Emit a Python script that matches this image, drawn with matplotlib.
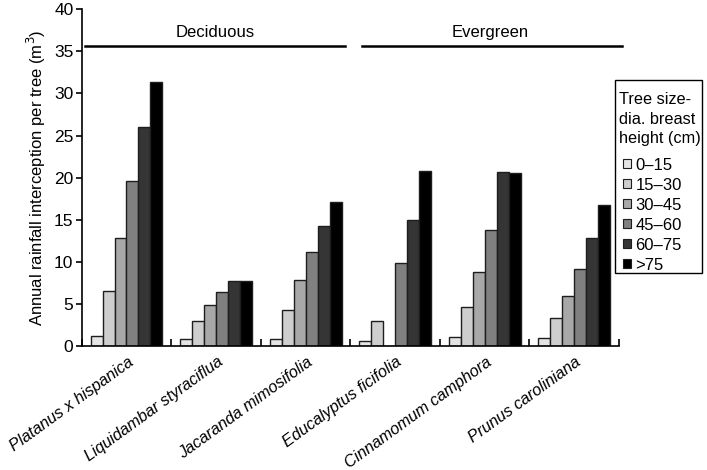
import numpy as np
import matplotlib
matplotlib.use("Agg")
import matplotlib.pyplot as plt
import matplotlib.transforms as mtransforms
from matplotlib.patches import Patch, Rectangle

plt.rcParams["font.family"] = ["Liberation Sans", "DejaVu Sans"]
plt.rcParams["font.size"] = 12

# --- data ---
species = ["Platanus x hispanica", "Liquidambar styraciflua", "Jacaranda mimosifolia",
           "Educalyptus ficifolia", "Cinnamomum camphora", "Prunus caroliniana"]
size_classes = ["0\u201315", "15\u201330", "30\u201345", "45\u201360", "60\u201375", ">75"]
d0_15 = [1.2, 0.8, 0.8, 0.6, 1.0, 0.9]
d15_30 = [6.5, 2.9, 4.2, 2.9, 4.6, 3.3]
d30_45 = [12.8, 4.8, 7.8, 0.0, 8.8, 5.9]
d45_60 = [19.6, 6.4, 11.1, 9.8, 13.8, 9.1]
d60_75 = [26.0, 7.7, 14.2, 15.0, 20.6, 12.8]
d75 = [31.4, 7.7, 17.1, 20.8, 20.5, 16.7]
groups = ["Deciduous", "Evergreen"]
legend_title = ["Tree size-", "dia. breast", "height (cm)"]

series = [d0_15, d15_30, d30_45, d45_60, d60_75, d75]
colors = ["#e4e4e4", "#cecece", "#a8a8a8", "#808080", "#353535", "#000000"]

W, H = 707, 470
fig = plt.figure(figsize=(W / 100, H / 100), dpi=100)
ax = fig.add_axes([0.1156, 0.2645, 0.8755 - 0.1156, 0.9800 - 0.2645])

x = np.arange(len(species))
w = 0.134
for k, vals in enumerate(series):
    ax.bar(x + (k - 2.5) * w, vals, width=w, color=colors[k],
           edgecolor="#1e1e1e", linewidth=1.0, zorder=2)

ax.set_xlim(-0.5, len(species) - 0.5)
ax.set_ylim(0, 40)
ax.set_yticks(np.arange(0, 41, 5))
ax.spines["top"].set_visible(False)
ax.spines["right"].set_visible(False)
ax.spines["left"].set_linewidth(1.2)
ax.spines["bottom"].set_linewidth(1.2)
ax.tick_params(axis="y", direction="out", length=4, width=1.2, pad=2, labelsize=12.5)

ax.set_xticks(x)
ax.set_xticklabels(species, rotation=36, ha="right", va="center",
                   rotation_mode="anchor", style="italic", fontsize=11.7)
ax.tick_params(axis="x", which="major", length=0, pad=10.5)
# nudge the slanted names a little to the right, as in the reference
shift = mtransforms.ScaledTranslation(0.05, 0, fig.dpi_scale_trans)
for lbl in ax.get_xticklabels():
    lbl.set_transform(lbl.get_transform() + shift)
ax.set_xticks(np.arange(-0.5, len(species) + 0.5, 1), minor=True)
ax.tick_params(axis="x", which="minor", direction="in", length=5, width=1.2)

ax.set_ylabel("Annual rainfall interception per tree (m$^3$)", fontsize=12, labelpad=4)

# group headers
ax.plot([-0.463, 2.44], [35.67, 35.67], color="black", lw=1.8, clip_on=False)
ax.plot([2.627, 5.53], [35.67, 35.67], color="black", lw=1.8, clip_on=False)
ax.text(0.99, 37.3, groups[0], ha="center", va="center", fontsize=12)
ax.text(4.06, 37.3, groups[1], ha="center", va="center", fontsize=12)

# legend: box, title lines and entries placed in figure pixels
fig.patches.append(Rectangle((615 / W, 1 - 273 / H), 87 / W, 193 / H,
                             transform=fig.transFigure, fill=False,
                             edgecolor="black", linewidth=1.0))
for i, line in enumerate(legend_title):
    fig.text(619 / W, 1 - (104.5 + 19.5 * i) / H, line, ha="left",
             va="baseline", fontsize=11.7)

handles = [Patch(facecolor=c, edgecolor="#1e1e1e", linewidth=0.8) for c in colors]
fig.legend(handles, size_classes, loc="upper left",
           bbox_to_anchor=(623 / W, 1 - 157.5 / H), borderaxespad=0,
           frameon=False, handlelength=0.5, handleheight=0.5, handletextpad=0.25,
           labelspacing=0.3, borderpad=0, fontsize=12)

fig.savefig("out.png", dpi=100)
